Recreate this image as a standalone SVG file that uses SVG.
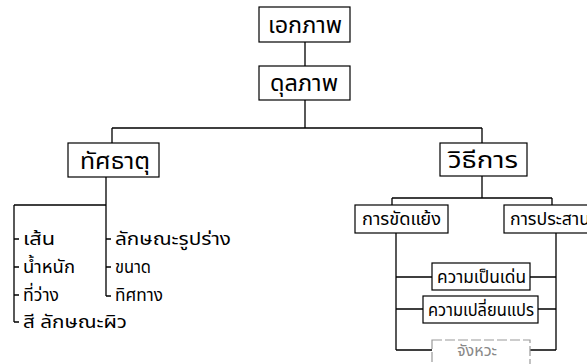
<svg xmlns="http://www.w3.org/2000/svg" width="587" height="364" viewBox="0 0 587 364">
<style>
.box{fill:#fff;stroke:#000;stroke-width:1.2}
.gbox{fill:#fff;stroke:#999;stroke-width:1.2;stroke-dasharray:10 3}
.ln{fill:none;stroke:#000;stroke-width:1.3}
.t{font-family:"Noto Sans Thai","Loma","Garuda","Tlwg Typo","Noto Sans","DejaVu Sans",sans-serif;fill:#000}
.big{font-size:23px}
.mid{font-size:18px}
.sm{font-size:17px}
.gray{fill:#888}
</style>
<rect width="587" height="364" fill="#fff"/>
<g id="connectors">
<path class="ln" d="M305 42V66M305 100V128M112 128H482M112 128V143M482 128V143"/>
<path class="ln" d="M106 177V296M14 205H106M14 205V322"/>
<path class="ln" d="M14 239H19M14 267H19M14 295H19M14 322H19M106 239H111M106 267H111M106 296H111"/>
<path class="ln" d="M482 176V198M392 198H552M392 198V205M552 198V205"/>
<path class="ln" d="M396 233V350M556 233V350M396 277H432M396 309H423M396 350H432M530 277H556M538 309H556M530 350H556"/>
</g>
<g id="n-ekaphap"><rect class="box" x="259" y="7" width="91" height="35"/><text class="t big" x="268" y="33" textLength="74" lengthAdjust="spacingAndGlyphs">เอกภาพ</text></g>
<g id="n-dunlaphap"><rect class="box" x="259" y="66" width="91" height="34"/><text class="t big" x="270" y="91" textLength="68" lengthAdjust="spacingAndGlyphs">ดุลภาพ</text></g>
<g id="n-thatsathat"><rect class="box" x="68" y="143" width="91" height="34"/><text class="t big" x="80" y="169" textLength="70" lengthAdjust="spacingAndGlyphs">ทัศธาตุ</text></g>
<g id="n-withikan"><rect class="box" x="440" y="143" width="87" height="33"/><text class="t big" x="448" y="168" textLength="70" lengthAdjust="spacingAndGlyphs">วิธีการ</text></g>
<g id="n-left-items">
<text class="t mid" x="23" y="245" textLength="32" lengthAdjust="spacingAndGlyphs">เส้น</text>
<text class="t mid" x="23" y="273" textLength="52" lengthAdjust="spacingAndGlyphs">น้ำหนัก</text>
<text class="t mid" x="23" y="301" textLength="36" lengthAdjust="spacingAndGlyphs">ที่ว่าง</text>
<text class="t mid" x="23" y="328" textLength="104" lengthAdjust="spacingAndGlyphs">สี ลักษณะผิว</text>
<text class="t mid" x="115" y="245" textLength="116" lengthAdjust="spacingAndGlyphs">ลักษณะรูปร่าง</text>
<text class="t mid" x="115" y="273" textLength="36" lengthAdjust="spacingAndGlyphs">ขนาด</text>
<text class="t mid" x="115" y="301" textLength="48" lengthAdjust="spacingAndGlyphs">ทิศทาง</text>
</g>
<g id="n-khatyaeng"><rect class="box" x="355" y="205" width="93" height="28"/><text class="t sm" x="362" y="225" textLength="79" lengthAdjust="spacingAndGlyphs">การขัดแย้ง</text></g>
<g id="n-prasan"><rect class="box" x="504" y="205" width="90" height="28"/><text class="t sm" x="510" y="225" textLength="80" lengthAdjust="spacingAndGlyphs">การประสาน</text></g>
<g id="n-pendoen"><rect class="box" x="432" y="263" width="98" height="27"/><text class="t sm" x="437" y="283" textLength="89" lengthAdjust="spacingAndGlyphs">ความเป็นเด่น</text></g>
<g id="n-plianplae"><rect class="box" x="423" y="296" width="115" height="27"/><text class="t sm" x="428" y="316" textLength="106" lengthAdjust="spacingAndGlyphs">ความเปลี่ยนแปร</text></g>
<g id="n-changwa"><rect class="gbox" x="432" y="340" width="98" height="30"/><text class="t gray" style="font-size:15px" x="457" y="356" textLength="40" lengthAdjust="spacingAndGlyphs">จังหวะ</text></g>
</svg>
